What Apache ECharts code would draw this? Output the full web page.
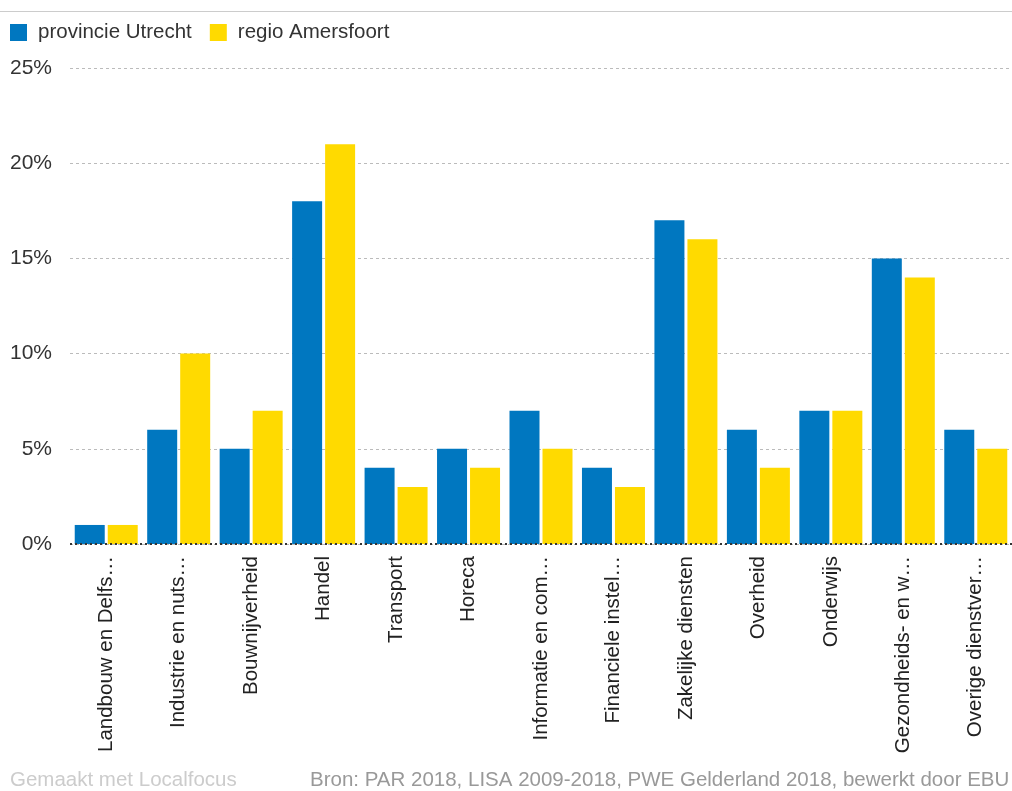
<!DOCTYPE html>
<html>
<head>
<meta charset="utf-8">
<script src="https://cdn.jsdelivr.net/npm/echarts@6/dist/echarts.min.js"></script>
<style>
    html,body{margin:0;padding:0;background:#fff;}
    #chart{width:1012px;height:791px;}
</style>
</head>
<body>
<div id="chart"></div>
<script>
    // sectoren
    var categories = ['Landbouw en Delfs…','Industrie en nuts…','Bouwnijverheid','Handel','Transport','Horeca',
        'Informatie en com…','Financiele instel…','Zakelijke diensten','Overheid','Onderwijs','Gezondheids- en w…','Overige dienstver…'];
    var utrecht = [1,6,5,18,4,5,7,4,17,6,7,15,6];
    var amersfoort = [1,10,7,21,3,4,5,3,16,4,7,14,5];
    var yTicks = [0,5,10,15,20,25];

    var font = '"Liberation Sans", Arial, sans-serif';
    var myChart = echarts.init(document.getElementById('chart'));
    var option = {
        animation:false,
        textStyle:{fontFamily:font},
        legend:{
            left:5, top:17,
            itemWidth:17, itemHeight:17, itemGap:18,
            icon:'rect',
            itemStyle:{borderRadius:2},
            textStyle:{fontSize:20.5, color:'#333', fontFamily:font, padding:[0,0,0,6]},
            data:['provincie Utrecht','regio Amersfoort']
        },
        grid:{left:70, top:68, width:946, height:476, containLabel:false},
        xAxis:{
            type:'category',
            data:categories,
            axisTick:{show:false},
            axisLine:{show:false},
            axisLabel:{rotate:90, fontSize:20.5, color:'#222', margin:12, interval:0, fontFamily:font}
        },
        yAxis:{
            type:'value',
            min:yTicks[0], max:yTicks[yTicks.length-1], interval:5,
            axisLabel:{formatter:'{value}%', fontSize:21, color:'#333', margin:18, fontFamily:font},
            axisLine:{show:false},
            axisTick:{show:false},
            splitLine:{lineStyle:{color:'#bbb', type:[3,3], width:1}}
        },
        series:[
            {
                name:'provincie Utrecht', type:'bar', data:utrecht,
                barWidth:30, barGap:'10%',
                itemStyle:{color:'#0077c0'},
                markLine:{
                    silent:true, symbol:'none', label:{show:false},
                    lineStyle:{color:'#333', type:[2,3], width:2},
                    data:[{yAxis:0}]
                }
            },
            {
                name:'regio Amersfoort', type:'bar', data:amersfoort,
                barWidth:30, barGap:'10%',
                itemStyle:{color:'#ffda00'}
            }
        ],
        graphic:[
            {type:'rect', shape:{x:0, y:11, width:1012, height:1}, style:{fill:'#ccc'}},
            {type:'text', left:10, top:770, style:{text:'Gemaakt met Localfocus', fontSize:20.5, fill:'#ccc', fontFamily:font}},
            {type:'text', left:310, top:770, style:{text:'Bron: PAR 2018, LISA 2009-2018, PWE Gelderland 2018, bewerkt door EBU', fontSize:20.5, fill:'#999', fontFamily:font}}
        ]
    };
    myChart.setOption(option);
</script>
</body>
</html>
